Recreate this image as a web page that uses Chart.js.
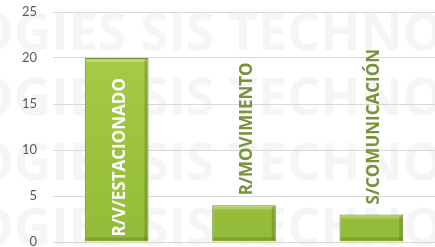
<!DOCTYPE html>
<html lang="es">
<head>
    <meta charset="UTF-8">
    <title>Estado</title>
    <script src="https://cdn.jsdelivr.net/npm/chart.js@4.4.0/dist/chart.umd.min.js"></script>
    <style>
        body { margin: 0; padding: 0; background: #ffffff; }
        .chart-container { width: 435px; height: 247px; position: relative; }
    </style>
</head>
<body>
    <div class="chart-container">
        <canvas id="barChart"></canvas>
    </div>

    <script>
        // values
        const categories = ['R/V/ESTACIONADO', 'R/MOVIMIENTO', 'S/COMUNICACIÓN'];
        const counts = [20, 4, 3];
        const yTicks = [0, 5, 10, 15, 20, 25];
        const watermarkText = 'OGIES SIS TECHNOLOGIES';

        const ctx = document.getElementById('barChart').getContext('2d');

        function barGradient(context) {
            const area = context.chart.chartArea;
            if (!area) return '#9bc13c';
            const g = context.chart.ctx.createLinearGradient(0, area.top, 0, area.bottom);
            g.addColorStop(0, '#a9cf48');
            g.addColorStop(1, '#94bb37');
            return g;
        }

        const watermark = {
            id: 'watermark',
            beforeDraw(chart) {
                const c = chart.ctx;
                c.save();
                c.fillStyle = '#ffffff';
                c.fillRect(0, 0, chart.width, chart.height);
                c.font = 'bold 52px "Open Sans"';
                c.fillStyle = '#f5f5f5';
                c.textBaseline = 'alphabetic';
                const x0 = 140 - c.measureText('OGIES ').width;
                [50, 115, 180, 245].forEach(y => c.fillText(watermarkText, x0, y));
                c.restore();
            }
        };

        // soft bevel on the bars, like the office chart style
        const bevel = {
            id: 'bevel',
            afterDatasetsDraw(chart) {
                const c = chart.ctx;
                c.save();
                chart.getDatasetMeta(0).data.forEach(bar => {
                    const l = bar.x - bar.width / 2, r = bar.x + bar.width / 2;
                    const t = bar.y, b = bar.base;
                    c.fillStyle = 'rgba(255,255,255,0.25)';
                    c.fillRect(l + 1, t + 1, r - l - 2, 3);
                    c.fillStyle = 'rgba(60,80,10,0.25)';
                    c.fillRect(l + 1, b - 4, r - l - 2, 3);
                    c.fillRect(r - 4, t + 1, 3, b - t - 2);
                });
                c.restore();
            }
        };

        const barLabels = {
            id: 'barLabels',
            afterDatasetsDraw(chart) {
                const c = chart.ctx;
                const meta = chart.getDatasetMeta(0);
                c.save();
                c.font = 'bold 17px "Open Sans"';
                c.textBaseline = 'middle';
                c.textAlign = 'left';
                meta.data.forEach((bar, i) => {
                    const text = categories[i];
                    const w = c.measureText(text).width;
                    let startY;
                    if (w + 10 < bar.base - bar.y) {
                        c.fillStyle = '#ffffff';
                        startY = bar.base - 5;
                    } else {
                        c.fillStyle = '#77933c';
                        startY = bar.y - 10;
                    }
                    c.save();
                    c.translate(bar.x + 3, startY);
                    c.rotate(-Math.PI / 2);
                    c.fillText(text, 0, 0);
                    c.restore();
                });
                c.restore();
            }
        };

        new Chart(ctx, {
            type: 'bar',
            data: {
                labels: categories,
                datasets: [{
                    data: counts,
                    backgroundColor: barGradient,
                    borderColor: '#6f9130',
                    borderWidth: 1,
                    categoryPercentage: 1,
                    barPercentage: 0.5
                }]
            },
            options: {
                responsive: true,
                maintainAspectRatio: false,
                animation: false,
                layout: { padding: { top: 12, bottom: 5, right: 0, left: 0 } },
                plugins: {
                    legend: { display: false },
                    tooltip: { enabled: false }
                },
                scales: {
                    x: { display: false },
                    y: {
                        min: 0,
                        max: 25,
                        afterFit(scale) {
                            scale.width = 53;
                            scale.paddingTop = 0;
                            scale.paddingBottom = 0;
                        },
                        afterBuildTicks(scale) { scale.ticks = yTicks.map(v => ({ value: v })); },
                        border: { display: false },
                        grid: { color: '#d9d9d9', drawTicks: false },
                        ticks: {
                            color: '#595959',
                            padding: 16,
                            font: { family: 'Lato', size: 13 }
                        }
                    }
                }
            },
            plugins: [watermark, bevel, barLabels]
        });
    </script>
</body>
</html>
